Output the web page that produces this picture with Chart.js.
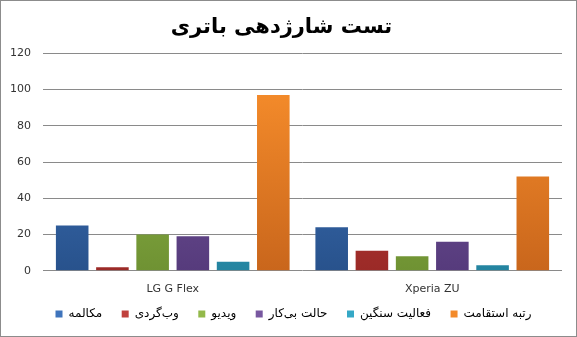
<!DOCTYPE html>
<html>
<head>
<meta charset="utf-8">
<script src="https://cdn.jsdelivr.net/npm/chart.js@4/dist/chart.umd.min.js"></script>
<style>
  html, body { margin: 0; padding: 0; background: #fff; }
  #wrap { position: relative; width: 575px; height: 335px; border: 1px solid #8c8c8c; }
</style>
</head>
<body>
<div id="wrap"><canvas id="chart" width="575" height="335"></canvas></div>
<script>
const categories = ['LG G Flex', 'Xperia ZU'];
const seriesNames = ['مکالمه', 'وب‌گردی', 'ویدیو', 'حالت بی‌کار', 'فعالیت سنگین', 'رتبه استقامت'];
const callValues = [25, 24];
const webValues = [2, 11];
const videoValues = [20, 8];
const idleValues = [19, 16];
const heavyValues = [5, 3];
const enduranceValues = [97, 52];
const yTicks = [0, 20, 40, 60, 80, 100, 120];

// top colour, bottom colour (Excel style gradient)
const colours = [
  ['#3f74bc', '#28528c'],
  ['#c0413d', '#9b2a27'],
  ['#93b94a', '#6f9233'],
  ['#7858a0', '#563b7c'],
  ['#35a8c6', '#2484a0'],
  ['#f38a2a', '#c9661c']
];

const allValues = [callValues, webValues, videoValues, idleValues, heavyValues, enduranceValues];

function gradientFor(i) {
  return function (ctx) {
    const chart = ctx.chart;
    const area = chart.chartArea;
    if (!area) return colours[i][0];
    const g = chart.ctx.createLinearGradient(0, area.top + 40, 0, area.bottom);
    g.addColorStop(0, colours[i][0]);
    g.addColorStop(1, colours[i][1]);
    return g;
  };
}

const datasets = allValues.map((vals, i) => ({
  label: seriesNames[i],
  data: vals,
  backgroundColor: gradientFor(i),
  borderWidth: 0,
  categoryPercentage: 0.93,
  barPercentage: 0.81
}));

const font = "'DejaVu Sans', Arial, sans-serif";

// nudge the legend a little to the right, like the original
const shiftLegend = {
  id: 'shiftLegend',
  afterLayout(chart) {
    chart.legend.left += 12;
    chart.legend.right += 12;
  }
};

new Chart(document.getElementById('chart'), {
  type: 'bar',
  data: { labels: categories, datasets },
  plugins: [shiftLegend],
  options: {
    responsive: false,
    animation: false,
    layout: { padding: { left: 0, right: 14, top: 0, bottom: 6 } },
    plugins: {
      title: {
        display: true,
        text: 'تست شارژدهی باتری',
        color: '#000',
        font: { family: font, size: 21, weight: 'bold' },
        padding: { top: 14, bottom: 13 }
      },
      legend: {
        position: 'bottom',
        labels: {
          color: '#333',
          font: { family: font, size: 12 },
          boxWidth: 7,
          boxHeight: 7,
          padding: 8,
          generateLabels(chart) {
            const n = chart.data.datasets.length;
            return chart.data.datasets.map((ds, i) => ({
              // trailing no-break spaces widen the gap to the next item
              text: ds.label + (i < n - 1 ? '\u00a0\u00a0\u00a0' : ''),
              fillStyle: colours[i][0],
              strokeStyle: colours[i][0],
              lineWidth: 0,
              datasetIndex: i
            }));
          }
        }
      },
      tooltip: { enabled: false }
    },
    scales: {
      x: {
        grid: { display: false },
        border: { display: false },
        ticks: { color: '#333', font: { family: font, size: 11 }, padding: 4 }
      },
      y: {
        min: 0,
        max: 120,
        afterBuildTicks(axis) { axis.ticks = yTicks.map(v => ({ value: v })); },
        afterFit(axis) { axis.width = 42; },
        grid: { color: '#8a8a8a', drawTicks: false },
        border: { display: false },
        ticks: { color: '#333', font: { family: font, size: 11 }, padding: 12 }
      }
    }
  }
});
</script>
</body>
</html>
